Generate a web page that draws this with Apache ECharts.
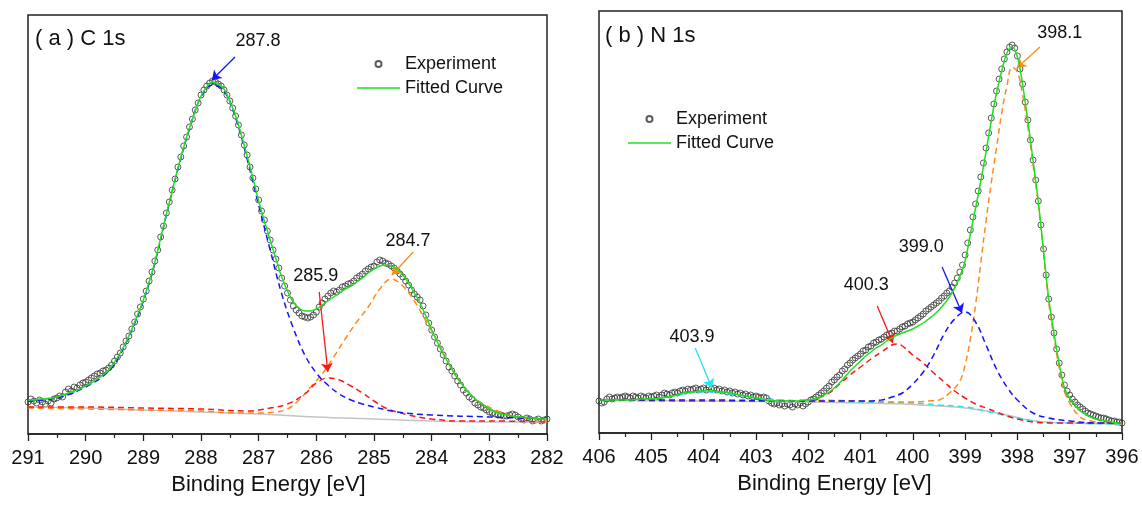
<!DOCTYPE html>
<html>
<head>
<meta charset="utf-8">
<title>XPS C 1s / N 1s</title>
<script src="https://cdn.jsdelivr.net/npm/echarts@6/dist/echarts.min.js"></script>
<style>
  html, body { margin: 0; padding: 0; background: #fff; }
  #chart { width: 1142px; height: 505px; }
</style>
</head>
<body>
<div id="chart"></div>
<script>
// intensities are in arbitrary units, [binding energy eV, intensity]

// ---- (a) C 1s ----
const expA = [
  [291.00,32],[290.95,35],[290.90,33],[290.85,31],[290.80,34],[290.75,32],[290.70,30],[290.65,33],[290.60,31],[290.55,35],
  [290.50,36],[290.45,38],[290.40,37],[290.35,42],[290.30,45],[290.25,43],[290.20,47],[290.15,46],[290.10,49],[290.05,51],
  [290.00,52],[289.95,54],[289.90,56],[289.85,58],[289.80,60],[289.75,61],[289.70,63],[289.65,64],[289.60,66],[289.55,69],
  [289.50,73],[289.45,77],[289.40,81],[289.35,87],[289.30,93],[289.25,98],[289.20,105],[289.15,112],[289.10,120],[289.05,127],
  [289.00,135],[288.95,143],[288.90,153],[288.85,162],[288.80,173],[288.75,184],[288.70,197],[288.65,208],[288.60,221],[288.55,232],
  [288.50,244],[288.45,255],[288.40,267],[288.35,277],[288.30,288],[288.25,297],[288.20,307],[288.15,315],[288.10,324],[288.05,331],
  [288.00,339],[287.95,344],[287.90,348],[287.85,351],[287.80,353],[287.75,352],[287.70,350],[287.65,348],[287.60,344],[287.55,339],
  [287.50,333],[287.45,326],[287.40,318],[287.35,309],[287.30,299],[287.25,289],[287.20,279],[287.15,267],[287.10,256],[287.05,245],
  [287.00,234],[286.95,223],[286.90,214],[286.85,203],[286.80,194],[286.75,184],[286.70,175],[286.65,166],[286.60,156],[286.55,148],
  [286.50,141],[286.45,134],[286.40,128],[286.35,124],[286.30,121],[286.25,118],[286.20,117],[286.15,116],[286.10,117],[286.05,119],
  [286.00,122],[285.95,127],[285.90,131],[285.85,135],[285.80,138],[285.75,141],[285.70,143],[285.65,142],[285.60,144],[285.55,147],
  [285.50,148],[285.45,150],[285.40,151],[285.35,153],[285.30,156],[285.25,158],[285.20,160],[285.15,163],[285.10,165],[285.05,167],
  [285.00,168],[284.95,172],[284.90,174],[284.85,173],[284.80,171],[284.75,170],[284.70,168],[284.65,166],[284.60,163],[284.55,160],
  [284.50,157],[284.45,153],[284.40,149],[284.35,144],[284.30,140],[284.25,137],[284.20,134],[284.15,128],[284.10,119],[284.05,111],
  [284.00,104],[283.95,97],[283.90,91],[283.85,85],[283.80,79],[283.75,73],[283.70,67],[283.65,63],[283.60,58],[283.55,53],
  [283.50,49],[283.45,44],[283.40,41],[283.35,37],[283.30,35],[283.25,31],[283.20,29],[283.15,27],[283.10,26],[283.05,24],
  [283.00,22],[282.95,21],[282.90,20],[282.85,19],[282.80,19],[282.75,18],[282.70,18],[282.65,19],[282.60,20],[282.55,19],
  [282.50,17],[282.45,15],[282.40,14],[282.35,16],[282.30,15],[282.25,13],[282.20,14],[282.15,15],[282.10,13],[282.05,14],
  [282.00,15]
];
const fitA = [
  [291.0,34],[290.9,34],[290.8,35],[290.7,35],[290.6,36],[290.5,37],[290.4,39],[290.3,41],[290.2,43],[290.1,45],
  [290.0,48],[289.9,51],[289.8,55],[289.7,59],[289.6,64],[289.5,72],[289.4,81],[289.3,92],[289.2,105],[289.1,119],
  [289.0,134],[288.9,152],[288.8,172],[288.7,196],[288.6,220],[288.5,243],[288.4,266],[288.3,287],[288.2,306],[288.1,323],
  [288.0,338],[287.9,347],[287.8,352],[287.7,350],[287.6,345],[287.5,333],[287.4,318],[287.3,299],[287.2,278],[287.1,256],
  [287.0,233],[286.9,213],[286.8,194],[286.7,175],[286.6,157],[286.5,143],[286.4,132],[286.3,126],[286.2,123],[286.1,123],
  [286.0,125],[285.9,129],[285.8,133],[285.7,137],[285.6,141],[285.5,145],[285.4,148],[285.3,152],[285.2,156],[285.1,161],
  [285.0,165],[284.9,168],[284.8,169],[284.7,168],[284.6,165],[284.5,159],[284.4,151],[284.3,141],[284.2,131],[284.1,118],
  [284.0,104],[283.9,92],[283.8,80],[283.7,70],[283.6,60],[283.5,52],[283.4,44],[283.3,38],[283.2,33],[283.1,29],
  [283.0,25],[282.9,22],[282.8,20],[282.7,19],[282.6,18],[282.5,17],[282.4,17],[282.3,16],[282.2,16],[282.1,15],[282.0,15]
];
const peak2878 = [
  [291.0,33],[290.5,36],[290.0,47],[289.6,63],[289.4,80],[289.2,104],[289.0,133],[288.8,171],[288.6,219],[288.4,265],
  [288.2,305],[288.0,337],[287.8,349],[287.6,343],[287.4,316],[287.2,275],[287.0,229],[286.8,184],[286.6,140],[286.4,106],
  [286.2,79],[286.0,61],[285.8,49],[285.6,40],[285.4,34],[285.2,30],[285.0,27],[284.6,22],[284.0,19],[283.0,17],[282.0,15]
];
const peak2859 = [
  [291.0,27],[290.0,27],[289.0,26],[288.0,25],[287.2,23],[286.8,26],[286.5,30],[286.2,40],[286.0,51],[285.8,56],
  [285.6,54],[285.4,48],[285.2,41],[285.0,33],[284.8,26],[284.6,22],[284.4,19],[284.0,15],[283.5,13],[283.0,13],[282.0,12]
];
const peak2847 = [
  [291.0,26],[290.0,25],[289.0,24],[288.0,23],[287.4,21],[287.0,21],[286.7,22],[286.5,25],[286.3,34],[286.1,47],
  [285.9,60],[285.7,77],[285.5,95],[285.3,112],[285.1,127],[284.9,145],[284.7,155],[284.5,148],[284.3,133],[284.1,113],
  [283.9,93],[283.7,70],[283.5,51],[283.3,38],[283.1,30],[282.9,24],[282.6,18],[282.3,15],[282.0,14]
];
const bgA = [
  [291,27],[290,26],[289,24],[288,22],[287,20],[286,17],[285,15],[284,13],[283,12],[282,12]
];

// ---- (b) N 1s ----
const expB = [
  [406.00,32],[405.95,30],[405.90,31],[405.85,34],[405.80,36],[405.75,34],[405.70,35],[405.65,36],[405.60,35],[405.55,36],
  [405.50,37],[405.45,36],[405.40,35],[405.35,37],[405.30,36],[405.25,35],[405.20,37],[405.15,36],[405.10,35],[405.05,37],
  [405.00,36],[404.95,37],[404.90,38],[404.85,36],[404.80,38],[404.75,40],[404.70,39],[404.65,38],[404.60,40],[404.55,41],
  [404.50,40],[404.45,42],[404.40,43],[404.35,42],[404.30,44],[404.25,43],[404.20,44],[404.15,45],[404.10,43],[404.05,44],
  [404.00,45],[403.95,43],[403.90,46],[403.85,44],[403.80,45],[403.75,43],[403.70,44],[403.65,42],[403.60,43],[403.55,41],
  [403.50,42],[403.45,40],[403.40,41],[403.35,39],[403.30,40],[403.25,38],[403.20,39],[403.15,37],[403.10,38],[403.05,36],
  [403.00,37],[402.95,36],[402.90,35],[402.85,36],[402.80,35],[402.75,32],[402.70,30],[402.65,29],[402.60,30],[402.55,28],
  [402.50,29],[402.45,27],[402.40,29],[402.35,28],[402.30,26],[402.25,29],[402.20,28],[402.15,30],[402.10,27],[402.05,29],
  [402.00,31],[401.95,33],[401.90,34],[401.85,36],[401.80,38],[401.75,40],[401.70,42],[401.65,45],[401.60,47],[401.55,51],
  [401.50,53],[401.45,56],[401.40,58],[401.35,62],[401.30,64],[401.25,68],[401.20,70],[401.15,73],[401.10,75],[401.05,77],
  [401.00,79],[400.95,82],[400.90,83],[400.85,86],[400.80,87],[400.75,90],[400.70,91],[400.65,93],[400.60,94],[400.55,96],
  [400.50,98],[400.45,99],[400.40,100],[400.35,102],[400.30,102],[400.25,104],[400.20,106],[400.15,107],[400.10,109],[400.05,110],
  [400.00,111],[399.95,113],[399.90,115],[399.85,117],[399.80,119],[399.75,122],[399.70,124],[399.65,126],[399.60,128],[399.55,130],
  [399.50,132],[399.45,135],[399.40,137],[399.35,140],[399.30,142],[399.25,146],[399.20,150],[399.15,155],[399.10,161],[399.05,168],
  [399.00,178],[398.95,190],[398.90,203],[398.85,216],[398.80,229],[398.75,242],[398.70,256],[398.65,270],[398.60,285],[398.55,300],
  [398.50,315],[398.45,329],[398.40,342],[398.35,354],[398.30,364],[398.25,374],[398.20,381],[398.15,386],[398.10,388],[398.05,385],
  [398.00,377],[397.95,364],[397.90,349],[397.85,331],[397.80,313],[397.75,293],[397.70,273],[397.65,253],[397.60,232],[397.55,208],
  [397.50,184],[397.45,158],[397.40,134],[397.35,116],[397.30,100],[397.25,84],[397.20,70],[397.15,58],[397.10,48],[397.05,42],
  [397.00,38],[396.95,34],[396.90,31],[396.85,28],[396.80,26],[396.75,24],[396.70,22],[396.65,20],[396.60,19],[396.55,18],
  [396.50,17],[396.45,16],[396.40,15],[396.35,15],[396.30,14],[396.25,13],[396.20,12],[396.15,12],[396.10,11],[396.05,11],
  [396.00,10]
];
const fitB = [
  [406.0,33],[405.8,33],[405.6,33],[405.4,33],[405.2,34],[405.0,34],[404.8,35],[404.6,37],[404.5,38],[404.4,40],
  [404.3,41],[404.2,41],[404.1,42],[404.0,42],[403.9,42],[403.8,42],[403.7,41],[403.6,41],[403.5,40],[403.4,39],
  [403.3,38],[403.2,37],[403.1,36],[403.0,35],[402.9,34],[402.8,33],[402.6,32],[402.4,32],[402.2,32],[402.1,33],
  [402.0,33],[401.9,34],[401.8,35],[401.7,38],[401.6,41],[401.5,45],[401.4,50],[401.3,56],[401.2,62],[401.1,67],
  [401.0,72],[400.9,77],[400.8,81],[400.7,85],[400.6,88],[400.5,92],[400.4,95],[400.3,98],[400.2,100],[400.1,102],
  [400.0,104],[399.9,107],[399.8,110],[399.7,114],[399.6,118],[399.5,123],[399.4,129],[399.3,136],[399.2,145],[399.1,157],
  [399.0,172],[398.9,199],[398.8,225],[398.7,252],[398.6,281],[398.5,312],[398.4,340],[398.3,362],[398.2,380],[398.1,386],
  [398.0,376],[397.9,348],[397.8,312],[397.7,272],[397.6,231],[397.5,182],[397.4,134],[397.3,100],[397.2,69],[397.1,45],
  [397.0,35],[396.9,28],[396.8,22],[396.7,19],[396.6,16],[396.5,14],[396.4,13],[396.3,12],[396.2,11],[396.1,10],[396.0,10]
];
const peak3981 = [
  [402.0,33],[401.0,32],[400.5,31],[400.0,31],[399.7,32],[399.5,33],[399.3,40],[399.1,52],[399.0,68],[398.9,94],
  [398.8,128],[398.7,170],[398.6,212],[398.5,250],[398.4,285],[398.3,320],[398.2,347],[398.1,366],[398.0,361],[397.9,338],
  [397.8,306],[397.7,268],[397.6,228],[397.5,180],[397.4,130],[397.3,95],[397.2,65],[397.1,42],[397.0,30],[396.8,16],
  [396.6,12],[396.3,10],[396.0,9]
];
const peak3990 = [
  [406.0,33],[404.0,33],[402.0,32],[401.0,32],[400.6,33],[400.4,36],[400.2,40],[400.0,49],[399.8,61],[399.6,78],
  [399.4,99],[399.2,114],[399.0,121],[398.8,111],[398.6,88],[398.4,64],[398.2,46],[398.0,33],[397.7,20],[397.4,15],
  [397.0,12],[396.5,10],[396.0,10]
];
const peak4003 = [
  [406.0,33],[404.0,32],[402.0,32],[401.8,35],[401.6,40],[401.4,49],[401.2,58],[401.0,66],[400.8,74],[400.6,81],
  [400.4,88],[400.3,89],[400.2,87],[400.0,78],[399.8,70],[399.6,60],[399.4,51],[399.2,42],[399.0,35],[398.8,29],
  [398.6,25],[398.4,21],[398.2,17],[398.0,14],[397.7,11],[397.3,10],[396.5,10],[396.0,10]
];
const peak4039 = [
  [406.0,33],[405.5,33],[405.0,34],[404.6,37],[404.3,40],[404.0,41],[403.8,41],[403.5,39],[403.0,35],[402.5,33],
  [402.0,32],[401.0,31],[400.0,30],[399.5,28],[399.0,26],[398.6,22],[398.2,17],[397.8,13],[397.5,11],[397.0,10],[396.0,9]
];
const bgB = [
  [406,33],[404,32],[402,31],[401,30],[400.2,29],[399.5,27],[399.0,25],[398.6,22],[398.2,18],[397.8,13],[397.5,11],[397.0,10],[396,9]
];

// peak labels: [text, text E, text I, arrow tail E, tail I, arrow tip E, tip I]
const labelsA = [
  ["287.8", 287.01, 393, 287.41, 377, 287.81, 354],
  ["285.9", 286.01, 158, 285.95, 142, 285.80, 62],
  ["284.7", 284.41, 193, 284.32, 182, 284.69, 159],
];
const labelsB = [
  ["398.1", 397.19, 400, 397.57, 386, 398.01, 365],
  ["399.0", 399.84, 186, 399.44, 166, 399.06, 120],
  ["400.3", 400.89, 148, 400.68, 127, 400.38, 90],
  ["403.9", 404.22, 96, 404.16, 85, 403.84, 45],
];
const arrowColorsA = ["#1414ff", "#ff1414", "#ff8a1c"];
const arrowColorsB = ["#ff8a1c", "#1414ff", "#ff1414", "#1ee6f2"];

const FONT = "Liberation Sans, Arial, sans-serif";
const GREEN = "#1ee01e";

function scatter(data, gi) {
  return {
    name: "Experiment",
    type: "scatter",
    xAxisIndex: gi,
    yAxisIndex: gi,
    data: data,
    symbol: "circle",
    symbolSize: 6,
    itemStyle: { color: "rgba(255,255,255,0)", borderColor: "#333", borderWidth: 1 },
    z: 2,
  };
}

function curve(name, data, gi, color, dashed, z) {
  return {
    name: name,
    type: "line",
    xAxisIndex: gi,
    yAxisIndex: gi,
    data: data,
    smooth: 0.4,
    symbol: "none",
    lineStyle: { color: color, width: 1.5, type: dashed ? [6, 4] : "solid" },
    itemStyle: { color: color },
    z: z || 3,
  };
}

function markers(labels, colors) {
  return {
    markLine: {
      silent: true,
      symbol: ["none", "arrow"],
      symbolSize: 9,
      label: { show: false },
      data: labels.map((l, i) => [
        { coord: [l[3], l[4]], lineStyle: { color: colors[i], width: 1.3, type: "solid" }, itemStyle: { color: colors[i] } },
        { coord: [l[5], l[6]] },
      ]),
    },
    markPoint: {
      silent: true,
      symbol: "circle",
      symbolSize: 0,
      label: { show: true, position: "inside", formatter: "{b}", color: "#111", fontSize: 18, fontFamily: FONT },
      data: labels.map((l) => ({ name: l[0], coord: [l[1], l[2]] })),
    },
  };
}

function xAxis(gi, min, max) {
  return {
    gridIndex: gi,
    type: "value",
    inverse: true,
    min: min,
    max: max,
    interval: 1,
    name: "Binding Energy [eV]",
    nameLocation: "middle",
    nameGap: 40,
    nameTextStyle: { color: "#111", fontSize: 22, fontFamily: FONT, padding: [0, gi === 0 ? 38 : 52, 0, 0] },
    axisLine: { show: true, onZero: false, lineStyle: { color: "#222", width: 1.5 } },
    axisTick: { show: true, length: 7, lineStyle: { color: "#222", width: 1.3 } },
    minorTick: { show: true, splitNumber: 2, length: 4, lineStyle: { color: "#222", width: 1.2 } },
    axisLabel: { color: "#111", fontSize: 20, fontFamily: FONT, margin: 14, showMinLabel: true, showMaxLabel: true },
    splitLine: { show: false },
  };
}

function yAxis(gi, max) {
  return {
    gridIndex: gi,
    type: "value",
    min: 0,
    max: max,
    axisLine: { show: false },
    axisTick: { show: false },
    axisLabel: { show: false },
    splitLine: { show: false },
  };
}

function legend(left, top) {
  return {
    left: left,
    top: top,
    padding: 0,
    orient: "vertical",
    itemWidth: 43,
    itemHeight: 6,
    itemGap: 0,
    data: [
      { name: "Experiment" },
      { name: "Fitted Curve", icon: "path://M0,0H43V1.5H0Z", itemStyle: { color: GREEN } },
    ],
    textStyle: { color: "#111", fontSize: 18, fontFamily: FONT, lineHeight: 24 },
    selectedMode: false,
  };
}

const chart = echarts.init(document.getElementById("chart"));

const fitSeriesA = Object.assign(curve("Fitted Curve", fitA, 0, GREEN, false, 6), markers(labelsA, arrowColorsA));
const fitSeriesB = Object.assign(curve("Fitted Curve", fitB, 1, GREEN, false, 6), markers(labelsB, arrowColorsB));

chart.setOption({
  animation: false,
  backgroundColor: "#fff",
  title: [
    { text: "( a ) C 1s", left: 35, top: 28, padding: 0, textStyle: { color: "#111", fontSize: 22, fontWeight: "normal", fontFamily: FONT } },
    { text: "( b ) N 1s", left: 605, top: 25, padding: 0, textStyle: { color: "#111", fontSize: 22, fontWeight: "normal", fontFamily: FONT } },
  ],
  legend: [legend(357, 52), legend(628, 107)],
  grid: [
    { left: 28, top: 15, width: 519, height: 419, show: true, borderColor: "#222", borderWidth: 1.5, backgroundColor: "transparent" },
    { left: 599, top: 11, width: 523, height: 422, show: true, borderColor: "#222", borderWidth: 1.5, backgroundColor: "transparent" },
  ],
  xAxis: [xAxis(0, 282, 291), xAxis(1, 396, 406)],
  yAxis: [yAxis(0, 419), yAxis(1, 422)],
  series: [
    scatter(expA, 0),
    curve("Background", bgA, 0, "#c4c4c4", false, 3),
    curve("284.7", peak2847, 0, "#ff8a1c", true, 4),
    curve("285.9", peak2859, 0, "#ff1414", true, 4),
    curve("287.8", peak2878, 0, "#1414ff", true, 5),
    fitSeriesA,

    scatter(expB, 1),
    curve("Background", bgB, 1, "#c4c4c4", false, 3),
    curve("403.9", peak4039, 1, "#1ee6f2", true, 4),
    curve("400.3", peak4003, 1, "#ff1414", true, 4),
    curve("398.1", peak3981, 1, "#ff8a1c", true, 4),
    curve("399.0", peak3990, 1, "#1414ff", true, 5),
    fitSeriesB,
  ],
});
</script>
</body>
</html>
